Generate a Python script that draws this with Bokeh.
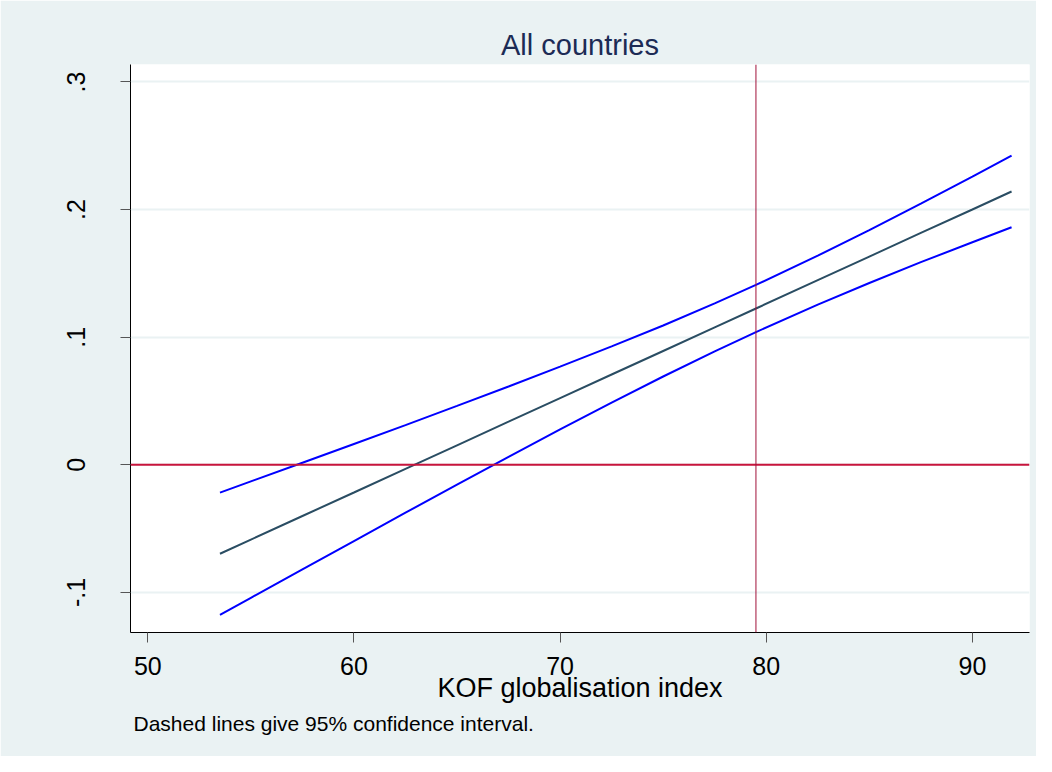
from bokeh.plotting import figure
from bokeh.models import Span, Title, FixedTicker
from bokeh.embed import file_html
from bokeh.resources import INLINE

# Data (KOF index vs. marginal effect and 95% CI)
kof = [53.5, 55, 57.5, 60, 62.5, 65, 67.5, 70, 72.5, 75, 77.5, 79.5, 82.5, 85, 87.5, 90, 91.9]
fit = [-0.0697, -0.0586, -0.0401, -0.0217, -0.0032, 0.0153, 0.0338, 0.0523, 0.0708,
       0.0892, 0.1077, 0.1225, 0.1447, 0.1632, 0.1817, 0.2001, 0.2142]
upper = [-0.0218, -0.0130, 0.0016, 0.0163, 0.0311, 0.0462, 0.0614, 0.0769, 0.0928,
         0.1092, 0.1265, 0.1410, 0.1639, 0.1839, 0.2046, 0.2258, 0.2422]
lower = [-0.1176, -0.1042, -0.0819, -0.0597, -0.0375, -0.0156, 0.0062, 0.0277, 0.0488,
         0.0692, 0.0889, 0.1040, 0.1255, 0.1425, 0.1588, 0.1744, 0.1862]

x_ticks = [50, 60, 70, 80, 90]
y_ticks = [-0.1, 0, 0.1, 0.2, 0.3]
y_tick_labels = ["-.1", "0", ".1", ".2", ".3"]
mean_kof = 79.5
zero_line = 0.0

title_text = "All countries"
x_label = "KOF globalisation index"
note_text = "Dashed lines give 95% confidence interval."

BG = "#EAF2F3"
FONT = "Liberation Sans"

p = figure(width=1036, height=756, output_backend="svg", toolbar_location=None,
           x_range=(49.16, 92.77), y_range=(-0.1314, 0.3137),
           min_border_left=130, min_border_right=7, min_border_top=64, min_border_bottom=124)

p.background_fill_color = "white"
p.border_fill_color = BG
p.outline_line_color = None

# Title
p.title.text = title_text
p.title.align = "center"
p.title.text_font = FONT
p.title.text_font_size = "29px"
p.title.text_font_style = "normal"
p.title.text_color = "#1C2B55"
p.title.standoff = 8

# Lines
p.line(kof, upper, line_color="#0000FF", line_width=2)
p.line(kof, lower, line_color="#0000FF", line_width=2)
p.line(kof, fit, line_color="#2A4D63", line_width=2)

# Reference lines
p.add_layout(Span(location=zero_line, dimension="width", line_color="#C8143C", line_width=2))
p.add_layout(Span(location=mean_kof, dimension="height", line_color="#A0103A", line_width=1))

# Grid
p.xgrid.visible = False
p.ygrid.ticker = FixedTicker(ticks=y_ticks)
p.ygrid.grid_line_color = BG
p.ygrid.grid_line_width = 2
p.ygrid.level = "underlay"

# X axis
xa = p.xaxis[0]
xa.ticker = FixedTicker(ticks=x_ticks)
xa.axis_label = x_label
xa.axis_label_text_font = FONT
xa.axis_label_text_font_size = "27px"
xa.axis_label_text_font_style = "normal"
xa.axis_label_text_color = "black"
xa.axis_label_standoff = -5
xa.major_label_text_font = FONT
xa.major_label_text_font_size = "25px"
xa.major_label_text_color = "black"
xa.major_label_standoff = 14
xa.major_tick_out = 10
xa.major_tick_in = 0
xa.minor_tick_out = 0
xa.minor_tick_in = 0
xa.major_tick_line_color = "#555555"
xa.axis_line_color = "black"

# Y axis
ya = p.yaxis[0]
ya.ticker = FixedTicker(ticks=y_ticks)
ya.major_label_overrides = {t: s for t, s in zip(y_ticks, y_tick_labels)}
ya.major_label_orientation = "vertical"
ya.major_label_text_font = FONT
ya.major_label_text_font_size = "25px"
ya.major_label_text_color = "black"
ya.major_label_standoff = 35
ya.major_tick_out = 10
ya.major_tick_in = 0
ya.minor_tick_out = 0
ya.minor_tick_in = 0
ya.major_tick_line_color = "#555555"
ya.axis_line_color = "black"

# Note below
note = Title(text=note_text, align="left", text_font=FONT, text_font_size="21px",
             text_font_style="normal", text_color="black", offset=3, standoff=9)
p.add_layout(note, "below")

open("out.html", "w").write(file_html(p, INLINE))
